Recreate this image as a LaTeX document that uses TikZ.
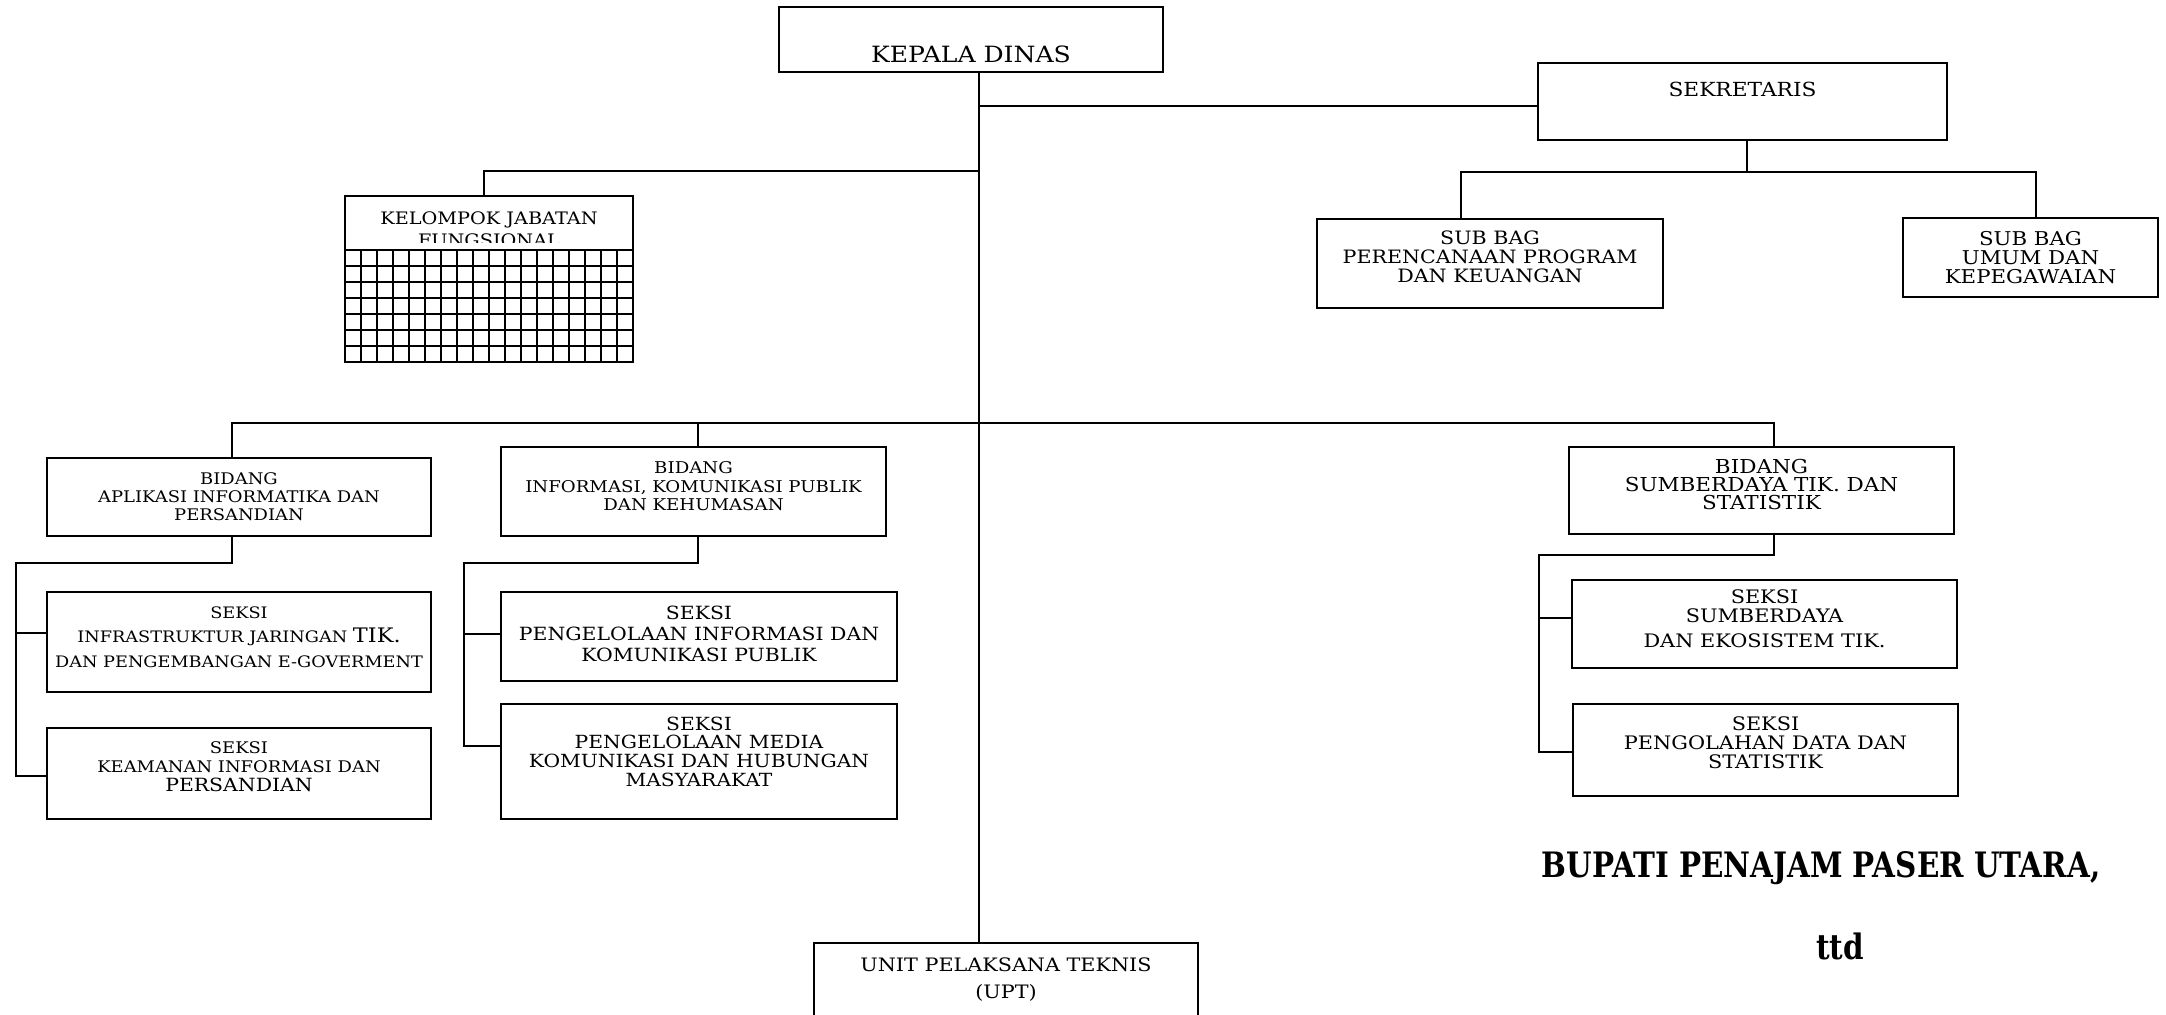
\documentclass[tikz,border=0pt]{standalone}
\usepackage{fontspec}
\setmainfont{DejaVu Serif}[FakeStretch=1.12]
\newfontfamily\signfont{DejaVu Serif}[FakeStretch=0.84]
\usetikzlibrary{calc}
\newcommand{\lowstrut}[1]{\rule[-#1]{0pt}{0pt}}
\tikzset{
  jabatan/.style={draw, line width=1pt},
  wh/.style 2 args={minimum width=#1*0.5pt, minimum height=#2*0.5pt},
  fs/.style 2 args={font=\fontsize{#1pt}{#2pt}\selectfont},
  link/.style={line width=0.8pt}
}
\begin{document}
\begin{tikzpicture}[x=0.5pt, y=-0.5pt, every node/.style={inner sep=0pt, align=center}]
  \useasboundingbox (0,0) rectangle (2166,1014);

  \node[jabatan, wh={384}{65}, fs={11.2}{13}, text height=22.5pt, text depth=0pt] (kadis) at (971,39.5) {KEPALA DINAS};
  \node[jabatan, wh={409}{77}, fs={9.7}{11}, text height=0pt, text depth=5.5pt] (sekr) at (1742.5,101.5) {SEKRETARIS};
  \node[jabatan, wh={346}{89}, fs={9.2}{9.5}] (sub1) at (1490,263.5) {SUB BAG\\PERENCANAAN PROGRAM\\DAN KEUANGAN\lowstrut{7pt}};
  \node[jabatan, wh={255}{79}, fs={9.5}{9.5}] (sub2) at (2030.5,257.5) {SUB BAG\\UMUM DAN\\KEPEGAWAIAN};

  \node[jabatan, wh={288}{166}] (kjf) at (489,279) {};
  \node[fs={8.6}{11}] (kjftext) at (489,229) {KELOMPOK JABATAN\\FUNGSIONAL};
  \fill[white] (346,243) rectangle (632,361);
  \foreach \i in {0,...,18}
    \draw[line width=1pt] (345+16*\i,250) -- (345+16*\i,362);
  \foreach \j in {0,...,7}
    \draw[line width=1pt] (345,250+16*\j) -- (633,250+16*\j);

  \node[jabatan, wh={384}{78}, fs={8}{9}] (bid1) at (239,497) {BIDANG\\APLIKASI INFORMATIKA DAN\\PERSANDIAN};
  \node[jabatan, wh={385}{89}, fs={8.1}{9.2}] (bid2) at (693.5,491.5) {BIDANG\\INFORMASI, KOMUNIKASI PUBLIK\\DAN KEHUMASAN\lowstrut{5.5pt}};
  \node[jabatan, wh={385}{87}, fs={9.6}{9}] (bid3) at (1761.5,490.5) {BIDANG\\SUMBERDAYA TIK. DAN\\STATISTIK\lowstrut{6pt}};

  \node[jabatan, wh={384}{100}, fs={7.9}{12.3}] (sk1) at (239,642)
    {SEKSI\\INFRASTRUKTUR JARINGAN {\fontsize{10pt}{12.3pt}\selectfont TIK.}\\DAN PENGEMBANGAN E-GOVERMENT\lowstrut{5pt}};
  \node[jabatan, wh={384}{91}, fs={8}{9.5}] (sk2) at (239,773.5)
    {SEKSI\\KEAMANAN INFORMASI DAN\\{\fontsize{9.1pt}{9.5pt}\selectfont PERSANDIAN}\lowstrut{7pt}};
  \node[jabatan, wh={396}{89}, fs={9.1}{10.5}] (sk3) at (699,636.5)
    {SEKSI\\PENGELOLAAN INFORMASI DAN\\KOMUNIKASI PUBLIK\lowstrut{3pt}};
  \node[jabatan, wh={396}{115}, fs={9.05}{9.3}] (sk4) at (699,761.5)
    {SEKSI\\PENGELOLAAN MEDIA\\KOMUNIKASI DAN HUBUNGAN\\MASYARAKAT\lowstrut{10pt}};
  \node[jabatan, wh={385}{88}, fs={9.3}{9.5}] (sk5) at (1764.5,624)
    {SEKSI\\SUMBERDAYA\\[3pt]DAN EKOSISTEM TIK.\lowstrut{5pt}};
  \node[jabatan, wh={385}{92}, fs={9.3}{9.7}] (sk6) at (1765.5,750)
    {SEKSI\\PENGOLAHAN DATA DAN\\STATISTIK\lowstrut{7.5pt}};

  \node[jabatan, wh={384}{74}, fs={9.25}{13.5}] (upt) at (1006,980) {UNIT PELAKSANA TEKNIS\\(UPT)};

  \node[font=\signfont\bfseries\fontsize{17.5pt}{20pt}\selectfont] (bupati) at (1821,868) {BUPATI PENAJAM PASER UTARA,};
  \node[font=\signfont\bfseries\fontsize{17.5pt}{20pt}\selectfont] (ttd) at (1840,946) {ttd};

  \coordinate (jsek) at (979,106);
  \coordinate (jkjf) at (979,171);
  \coordinate (jsub) at (1747,172);
  \coordinate (jbid) at (979,423);
  \coordinate (sp1) at (16,563);
  \coordinate (sp2) at (464,563);
  \coordinate (sp3) at (1539,555);

  \draw[link] (kadis.south -| jsek) -- (upt.north -| jsek);
  \draw[link] (jsek) -- (jsek -| sekr.west);
  \draw[link] (jkjf) -| ($(kjf.north)+(-5,0)$);
  \draw[link] ($(sekr.south)+(4.5,0)$) -- (jsub);
  \draw[link] ($(sub1.north)+(-29,0)$) |- (jsub) -| ($(sub2.north)+(5.5,0)$);
  \draw[link] ($(bid1.north)+(-7,0)$) |- (jbid) -| ($(bid3.north)+(12.5,0)$);
  \draw[link] ($(bid2.north)+(4.5,0)$) -- ++(0,-24);
  \draw[link] ($(bid1.south)+(-7,0)$) |- (sp1) |- ($(sk2.west)+(0,2.5)$);
  \draw[link] ($(sk1.west)+(0,-9)$) -- ++(-31,0);
  \draw[link] ($(bid2.south)+(4.5,0)$) |- (sp2) |- ($(sk4.west)+(0,-15.5)$);
  \draw[link] ($(sk3.west)+(0,-2.5)$) -- ++(-37,0);
  \draw[link] ($(bid3.south)+(12.5,0)$) |- (sp3) |- ($(sk6.west)+(0,2)$);
  \draw[link] ($(sk5.west)+(0,-6)$) -- ++(-33,0);
\end{tikzpicture}
\end{document}
